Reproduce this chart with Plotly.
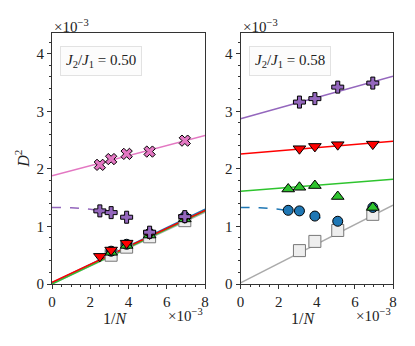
import plotly.graph_objects as go

# 1/N values (x 1e-3)
inv_n = [2.5, 3.09, 3.9, 5.1, 6.94]
inv_n4 = [3.09, 3.9, 5.1, 6.94]

# left panel, J2/J1 = 0.50 (D^2 x 1e-3)
l_square = [0.50, 0.64, 0.82, 1.10]
l_circle = [0.57, 0.69, 0.88, 1.17]
l_tri_up = [0.55, 0.67, 0.85, 1.13]
l_tri_dn = [0.48, 0.59, 0.71, 0.87, 1.15]
l_plus = [1.27, 1.24, 1.16, 0.90, 1.17]
l_cross = [2.07, 2.17, 2.26, 2.30, 2.49]

# right panel, J2/J1 = 0.58
r_square = [0.58, 0.74, 0.93, 1.21]
r_circle = [1.28, 1.27, 1.18, 1.09, 1.33]
r_tri_up = [1.65, 1.68, 1.71, 1.52, 1.33]
r_tri_dn = [2.35, 2.39, 2.42, 2.43]
r_plus = [3.16, 3.22, 3.42, 3.49]

# fit lines (end points at 1/N = 0 and 8e-3)
fit_x = [0, 8]
l_fit_square = [0.0, 1.25]
l_fit_circle = [0.02, 1.30]
l_fit_tri_up = [0.0, 1.27]
l_fit_tri_dn = [0.03, 1.28]
l_fit_cross = [1.88, 2.58]
r_fit_square = [0.02, 1.37]
r_fit_tri_up = [1.61, 1.82]
r_fit_tri_dn = [2.26, 2.48]
r_fit_plus = [2.87, 3.61]

# dashed extrapolation curves
dash_x = [0, 1, 2, 3, 3.8, 4.5]
l_dash_plus = [1.33, 1.325, 1.30, 1.25, 1.19, 1.11]
r_dash_circle = [1.33, 1.325, 1.30, 1.25, 1.19, 1.11]

c_gray, c_blue, c_green = "#aaaaaa", "#1f77b4", "#2ec42e"
c_red, c_purple, c_pink = "#ff0000", "#9467bd", "#e377c2"

fig = go.Figure()


def line(x, y, color, xa, dash="solid"):
    fig.add_trace(go.Scatter(x=x, y=y, mode="lines", xaxis=xa, yaxis=xa.replace("x", "y"),
                             line=dict(color=color, width=1.5, dash=dash), hoverinfo="skip"))


def pts(x, y, color, sym, size, xa, edge="black"):
    fig.add_trace(go.Scatter(x=x, y=y, mode="markers", xaxis=xa, yaxis=xa.replace("x", "y"),
                             marker=dict(color=color, symbol=sym, size=size,
                                         line=dict(color=edge, width=1))))


# left panel
line(fit_x, l_fit_square, c_gray, "x")
line(fit_x, l_fit_circle, c_blue, "x")
line(fit_x, l_fit_tri_up, c_green, "x")
line(fit_x, l_fit_tri_dn, c_red, "x")
line(fit_x, l_fit_cross, c_pink, "x")
line(dash_x, l_dash_plus, c_purple, "x", dash="dash")
pts(inv_n4, l_square, "#eeeeee", "square", 12, "x", edge="#777777")
pts(inv_n4, l_circle, c_blue, "circle", 10, "x")
pts(inv_n4, l_tri_up, c_green, "triangle-up", 11, "x")
pts(inv_n, l_tri_dn, c_red, "triangle-down", 11, "x")
pts(inv_n, l_plus, c_purple, "cross", 10, "x")
pts(inv_n, l_cross, c_pink, "x", 10, "x")

# right panel
line(fit_x, r_fit_square, c_gray, "x2")
line(fit_x, r_fit_tri_up, c_green, "x2")
line(fit_x, r_fit_tri_dn, c_red, "x2")
line(fit_x, r_fit_plus, c_purple, "x2")
line(dash_x, r_dash_circle, c_blue, "x2", dash="dash")
pts(inv_n4, r_square, "#eeeeee", "square", 12, "x2", edge="#777777")
pts(inv_n, r_circle, c_blue, "circle", 10, "x2")
pts(inv_n, r_tri_up, c_green, "triangle-up", 11, "x2")
pts(inv_n4, r_tri_dn, c_red, "triangle-down", 11, "x2")
pts(inv_n4, r_plus, c_purple, "cross", 10, "x2")

font = "Times New Roman, Liberation Serif, serif"
ax = dict(showgrid=False, zeroline=False, showline=True, mirror=True, linecolor="#333333",
          linewidth=1, ticks="outside", ticklen=4, tickcolor="#333333",
          tickfont=dict(family=font, size=15, color="#222222"))
xax = dict(ax, range=[0, 8], tickvals=[0, 2, 4, 6, 8],
           minor=dict(dtick=0.5, ticks="outside", ticklen=2, tickcolor="#333333"))
yax = dict(ax, range=[0, 4.36], tickvals=[0, 1, 2, 3, 4],
           minor=dict(dtick=0.2, ticks="outside", ticklen=2, tickcolor="#333333"))

fig.update_layout(
    width=415, height=346, showlegend=False,
    paper_bgcolor="white", plot_bgcolor="white",
    margin=dict(l=44, r=30, t=25, b=70),
    font=dict(family=font),
    xaxis=dict(xax, domain=[0, 0.449]),
    xaxis2=dict(xax, domain=[0.553, 1]),
    yaxis=dict(yax, anchor="x"),
    yaxis2=dict(yax, anchor="x2"),
)

ann_font = dict(family=font, size=15, color="#222222")
sci = "×10<sup>−3</sup>"
for dom0, dom1, xa, label in [(0, 0.449, "x", "0.50"), (0.553, 1, "x2", "0.58")]:
    fig.add_annotation(x=dom0, y=1.0, xref="paper", yref="paper", text=sci, showarrow=False,
                       xanchor="left", yanchor="bottom", font=ann_font, yshift=-4)
    fig.add_annotation(x=dom1, y=0, xref="paper", yref="paper", text=sci, showarrow=False,
                       xanchor="right", yanchor="top", font=ann_font, yshift=-20)
    fig.add_annotation(x=(dom0 + dom1) / 2 - 0.04, y=0, xref="paper", yref="paper",
                       text="1/<i>N</i>", showarrow=False, xanchor="center", yanchor="top",
                       font=dict(family=font, size=16, color="#222222"), yshift=-24)
    fig.add_annotation(x=0.42, y=3.88, xref=xa, yref=xa.replace("x", "y"),
                       text="<i>J</i><sub>2</sub>/<i>J</i><sub>1</sub> = " + label,
                       showarrow=False, xanchor="left", yanchor="middle", font=ann_font,
                       bgcolor="#fcfcfc", bordercolor="#e2e2e2", borderwidth=1, borderpad=5)

fig.add_annotation(x=-0.09, y=0.5, xref="paper", yref="paper", text="<i>D</i><sup>2</sup>",
                   showarrow=False, textangle=-90, font=dict(family=font, size=16, color="#222222"),
                   xanchor="center", yanchor="middle")

fig.write_html("out.html")
